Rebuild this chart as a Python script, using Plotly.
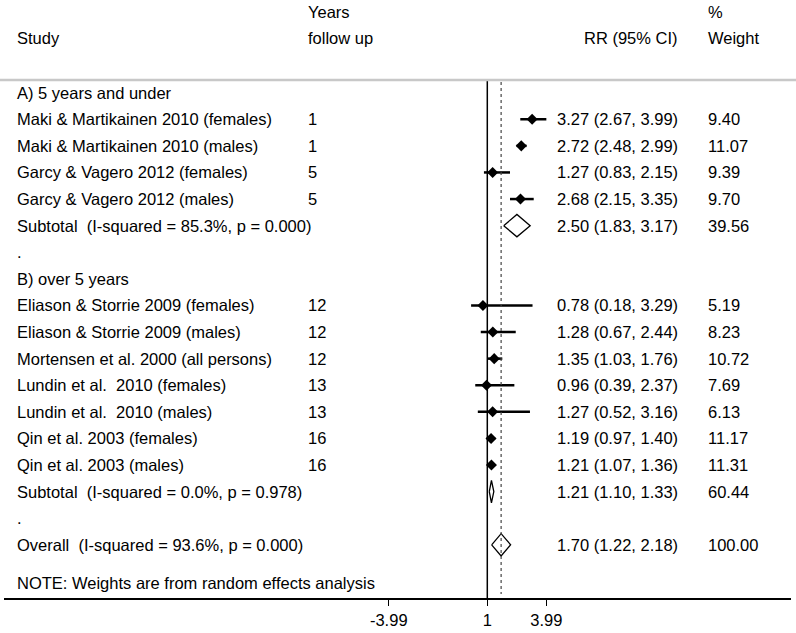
import plotly.graph_objects as go

# study level data
studies = ['Maki & Martikainen 2010 (females)', 'Maki & Martikainen 2010 (males)',
           'Garcy & Vagero 2012 (females)', 'Garcy & Vagero 2012 (males)',
           'Eliason & Storrie 2009 (females)', 'Eliason & Storrie 2009 (males)',
           'Mortensen et al. 2000 (all persons)', 'Lundin et al.  2010 (females)',
           'Lundin et al.  2010 (males)', 'Qin et al. 2003 (females)', 'Qin et al. 2003 (males)']
years = [1, 1, 5, 5, 12, 12, 12, 13, 13, 16, 16]
rr = [3.27, 2.72, 1.27, 2.68, 0.78, 1.28, 1.35, 0.96, 1.27, 1.19, 1.21]
ci_low = [2.67, 2.48, 0.83, 2.15, 0.18, 0.67, 1.03, 0.39, 0.52, 0.97, 1.07]
ci_high = [3.99, 2.99, 2.15, 3.35, 3.29, 2.44, 1.76, 2.37, 3.16, 1.40, 1.36]
weights = ['9.40', '11.07', '9.39', '9.70', '5.19', '8.23', '10.72', '7.69', '6.13', '11.17', '11.31']

# pooled estimates
pooled_labels = ['Subtotal  (I-squared = 85.3%, p = 0.000)',
                 'Subtotal  (I-squared = 0.0%, p = 0.978)',
                 'Overall  (I-squared = 93.6%, p = 0.000)']
pooled_rr = [2.50, 1.21, 1.70]
pooled_low = [1.83, 1.10, 1.22]
pooled_high = [3.17, 1.33, 2.18]
pooled_weights = ['39.56', '60.44', '100.00']

group_labels = ['A) 5 years and under', 'B) over 5 years']
tick_vals = [-3.99, 1, 3.99]

# row layout (row index from the top)
study_rows = [1, 2, 3, 4, 8, 9, 10, 11, 12, 13, 14]
pooled_rows = [5, 15, 17]
group_rows = [0, 7]
dot_rows = [6, 16]

FONT = 'Liberation Sans, Arial, sans-serif'
FS = 16.5
PX0, SCALE = 487.3, 19.75  # pixel of x=1 and pixels per unit


def px(p):
    return 1 + (p - PX0) / SCALE


def py(p):
    # pixel row -> paper y (plot area spans 80..600 px)
    return (600 - p) / 520


fig = go.Figure()

# CI lines
for r, lo, hi in zip(study_rows, ci_low, ci_high):
    fig.add_trace(go.Scatter(x=[lo, hi], y=[r, r], mode='lines',
                             line=dict(color='black', width=2.5), hoverinfo='skip'))
# point estimates
fig.add_trace(go.Scatter(x=rr, y=study_rows, mode='markers',
                         marker=dict(symbol='diamond', size=8.5, color='black')))
# pooled diamonds
h = 0.42
for r, est, lo, hi in zip(pooled_rows, pooled_rr, pooled_low, pooled_high):
    fig.add_trace(go.Scatter(x=[lo, est, hi, est, lo], y=[r, r - h, r, r + h, r], mode='lines',
                             line=dict(color='black', width=1.3), hoverinfo='skip'))

# null line and overall line
fig.add_shape(type='line', x0=1, x1=1, y0=0, y1=1, yref='paper', line=dict(color='black', width=1.5))
fig.add_shape(type='line', x0=pooled_rr[2], x1=pooled_rr[2], y0=-0.4, y1=18.85,
              line=dict(color='#444444', width=1.2, dash='dot'))
# header rule
fig.add_shape(type='line', x0=-4 / 787, x1=792 / 787, xref='paper', y0=1, y1=1, yref='paper',
              line=dict(color='#c8c8c8', width=2.5))

ann = []


def txt(x, y, s, anchor='left', paper=False):
    ann.append(dict(x=px(x), y=py(y) if paper else y, yref='paper' if paper else 'y',
                    text=s, showarrow=False, xanchor=anchor, yanchor='middle',
                    font=dict(family=FONT, size=FS, color='black')))


# header
txt(15, 38, 'Study', paper=True)
txt(306, 12, 'Years', paper=True)
txt(306, 38, 'follow up', paper=True)
txt(680, 38, 'RR (95% CI)', anchor='right', paper=True)
txt(706, 12, '%', paper=True)
txt(706, 38, 'Weight', paper=True)

for r, s in zip(group_rows, group_labels):
    txt(15, r, s)
for r in dot_rows:
    txt(15, r, '.')
for r, s, yr, est, lo, hi, w in zip(study_rows, studies, years, rr, ci_low, ci_high, weights):
    txt(15, r, s)
    txt(306, r, str(yr))
    txt(680, r, f'{est:.2f} ({lo:.2f}, {hi:.2f})', anchor='right')
    txt(706, r, w)
for r, s, est, lo, hi, w in zip(pooled_rows, pooled_labels, pooled_rr, pooled_low, pooled_high, pooled_weights):
    txt(15, r, s.replace('  ', '\u00a0 '))
    txt(680, r, f'{est:.2f} ({lo:.2f}, {hi:.2f})', anchor='right')
    txt(706, r, w)
txt(15, 18.44, 'NOTE: Weights are from random effects analysis')

fig.update_layout(
    width=796, height=633,
    margin=dict(l=4, r=5, t=80, b=33),
    paper_bgcolor='white', plot_bgcolor='white',
    showlegend=False,
    annotations=ann,
    xaxis=dict(range=[px(4), px(791)], showgrid=False, zeroline=False,
               showline=True, linecolor='black', linewidth=1.5,
               ticks='outside', ticklen=6, tickwidth=1.2, tickcolor='black',
               tickvals=tick_vals, ticktext=['-3.99', '1', '3.99'],
               tickfont=dict(family=FONT, size=FS, color='black')),
    yaxis=dict(range=[19.0, -0.476], visible=False, showgrid=False, zeroline=False),
)

fig.write_html('out.html', config={'displayModeBar': False},
               post_script="document.body.style.margin='0';")
